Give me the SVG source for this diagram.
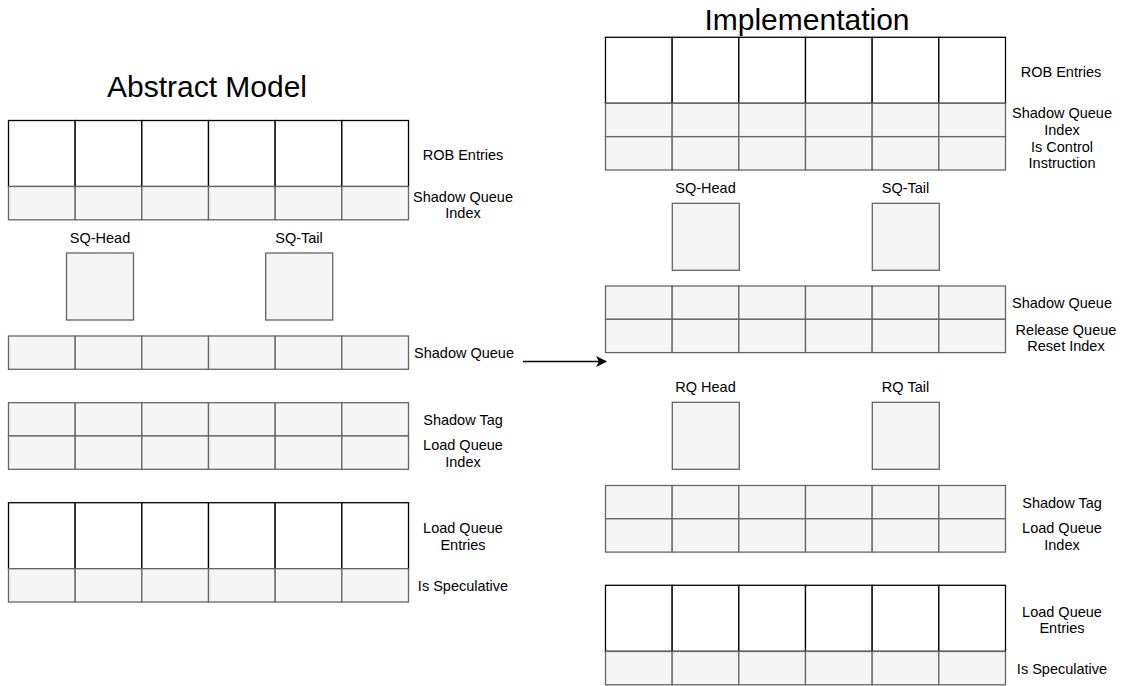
<svg xmlns="http://www.w3.org/2000/svg" width="1129" height="686" viewBox="0 0 1129 686">
  <style>
    text { font-family: "Liberation Sans", Arial, sans-serif; fill: #000; }
    .lbl { font-size: 14.5px; text-anchor: middle; }
    .title { font-size: 30px; text-anchor: middle; }
    .data { fill: #ffffff; stroke: #000000; stroke-width: 1.3; }
    .meta { fill: #f5f5f5; stroke: #666666; stroke-width: 1.3; }
    .ptr { fill: #f5f5f5; stroke: #666666; stroke-width: 1.3; }
    .conn { stroke: #000; stroke-width: 1.3; fill: none; }
  </style>
  <defs>
    <marker id="arrow" viewBox="0 0 10 10" refX="9" refY="5" markerWidth="11" markerHeight="11" orient="auto" markerUnits="userSpaceOnUse">
      <path d="M0,0 L10,5 L0,10 L2.5,5 Z" fill="#000" stroke="none"/>
    </marker>
    <!-- a row of six cells, 400 wide; colours come from the parent group -->
    <g id="row34">
      <rect x="0" y="0" width="66.67" height="33.3"/>
      <rect x="66.67" y="0" width="66.67" height="33.3"/>
      <rect x="133.33" y="0" width="66.67" height="33.3"/>
      <rect x="200" y="0" width="66.67" height="33.3"/>
      <rect x="266.67" y="0" width="66.67" height="33.3"/>
      <rect x="333.33" y="0" width="66.67" height="33.3"/>
    </g>
    <g id="row66">
      <rect x="0" y="0" width="66.67" height="66"/>
      <rect x="66.67" y="0" width="66.67" height="66"/>
      <rect x="133.33" y="0" width="66.67" height="66"/>
      <rect x="200" y="0" width="66.67" height="66"/>
      <rect x="266.67" y="0" width="66.67" height="66"/>
      <rect x="333.33" y="0" width="66.67" height="66"/>
    </g>
  </defs>

  <!-- Abstract model -->
  <g id="abstract-title"><text class="title" x="207" y="97">Abstract Model</text></g>

  <g id="a-rob" class="data"><use href="#row66" x="8.5" y="120.5"/></g>
  <g id="a-rob-sqidx" class="meta"><use href="#row34" x="8.5" y="186.5"/></g>
  <g id="a-rob-labels">
    <text class="lbl" x="463" y="160">ROB Entries</text>
    <text class="lbl" x="463" y="202">Shadow Queue</text>
    <text class="lbl" x="463" y="218">Index</text>
  </g>

  <g id="a-sq-head">
    <text class="lbl" x="100" y="243">SQ-Head</text>
    <rect class="ptr" x="66.5" y="253" width="67" height="67"/>
  </g>
  <g id="a-sq-tail">
    <text class="lbl" x="299" y="243">SQ-Tail</text>
    <rect class="ptr" x="265.7" y="253" width="67" height="67"/>
  </g>

  <g id="a-shadow-queue" class="meta"><use href="#row34" x="8.5" y="336"/></g>
  <g id="a-sq-label"><text class="lbl" x="464" y="358">Shadow Queue</text></g>

  <g id="a-shadow-tag" class="meta"><use href="#row34" x="8.5" y="402.7"/></g>
  <g id="a-lq-index" class="meta"><use href="#row34" x="8.5" y="436"/></g>
  <g id="a-tag-labels">
    <text class="lbl" x="463" y="425">Shadow Tag</text>
    <text class="lbl" x="463" y="450">Load Queue</text>
    <text class="lbl" x="463" y="467">Index</text>
  </g>

  <g id="a-lq" class="data"><use href="#row66" x="8.5" y="502.7"/></g>
  <g id="a-lq-spec" class="meta"><use href="#row34" x="8.5" y="568.7"/></g>
  <g id="a-lq-labels">
    <text class="lbl" x="463" y="533">Load Queue</text>
    <text class="lbl" x="463" y="550">Entries</text>
    <text class="lbl" x="463" y="591">Is Speculative</text>
  </g>

  <!-- Implementation -->
  <g id="impl-title"><text class="title" x="807" y="30">Implementation</text></g>

  <g id="i-rob" class="data"><use href="#row66" x="605.5" y="37.3"/></g>
  <g id="i-rob-sqidx" class="meta"><use href="#row34" x="605.5" y="103.3"/></g>
  <g id="i-rob-ctrl" class="meta"><use href="#row34" x="605.5" y="136.7"/></g>
  <g id="i-rob-labels">
    <text class="lbl" x="1061" y="77">ROB Entries</text>
    <text class="lbl" x="1062" y="118">Shadow Queue</text>
    <text class="lbl" x="1062" y="135">Index</text>
    <text class="lbl" x="1062" y="152">Is Control</text>
    <text class="lbl" x="1062" y="168">Instruction</text>
  </g>

  <g id="i-sq-head">
    <text class="lbl" x="705.5" y="193">SQ-Head</text>
    <rect class="ptr" x="672.3" y="203.3" width="67" height="67"/>
  </g>
  <g id="i-sq-tail">
    <text class="lbl" x="905.5" y="193">SQ-Tail</text>
    <rect class="ptr" x="872.3" y="203.3" width="67" height="67"/>
  </g>

  <g id="i-shadow-queue" class="meta"><use href="#row34" x="605.5" y="286"/></g>
  <g id="i-rq-reset" class="meta"><use href="#row34" x="605.5" y="319.3"/></g>
  <g id="i-sq-labels">
    <text class="lbl" x="1062" y="308">Shadow Queue</text>
    <text class="lbl" x="1066" y="335">Release Queue</text>
    <text class="lbl" x="1066" y="351">Reset Index</text>
  </g>

  <g id="i-rq-head">
    <text class="lbl" x="705.5" y="392">RQ Head</text>
    <rect class="ptr" x="672.3" y="402.3" width="67" height="67"/>
  </g>
  <g id="i-rq-tail">
    <text class="lbl" x="905.5" y="392">RQ Tail</text>
    <rect class="ptr" x="872.3" y="402.3" width="67" height="67"/>
  </g>

  <g id="i-shadow-tag" class="meta"><use href="#row34" x="605.5" y="485.5"/></g>
  <g id="i-lq-index" class="meta"><use href="#row34" x="605.5" y="518.8"/></g>
  <g id="i-tag-labels">
    <text class="lbl" x="1062" y="508">Shadow Tag</text>
    <text class="lbl" x="1062" y="533">Load Queue</text>
    <text class="lbl" x="1062" y="550">Index</text>
  </g>

  <g id="i-lq" class="data"><use href="#row66" x="605.5" y="585.3"/></g>
  <g id="i-lq-spec" class="meta"><use href="#row34" x="605.5" y="651.5"/></g>
  <g id="i-lq-labels">
    <text class="lbl" x="1062" y="617">Load Queue</text>
    <text class="lbl" x="1062" y="633">Entries</text>
    <text class="lbl" x="1062" y="674">Is Speculative</text>
  </g>

  <!-- connectors -->
  <g id="connectors">
    <line class="conn" x1="523" y1="361.5" x2="606" y2="361.5" marker-end="url(#arrow)"/>
  </g>
</svg>
